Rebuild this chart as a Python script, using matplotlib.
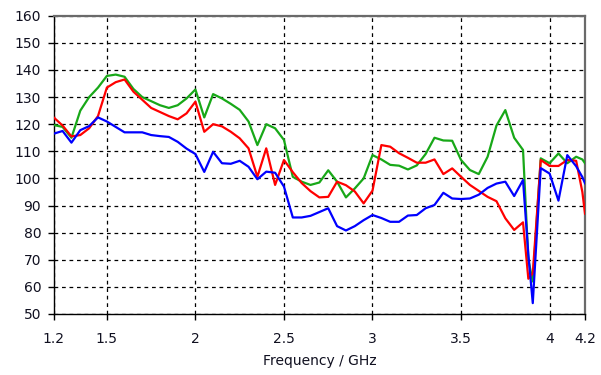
import matplotlib
matplotlib.use("Agg")
import matplotlib.pyplot as plt

# frequency points (GHz), shared by all three curves
freq = [1.2, 1.25, 1.3, 1.35, 1.4, 1.45, 1.5, 1.55, 1.6, 1.65,
        1.7, 1.75, 1.8, 1.85, 1.9, 1.95, 2.0, 2.05, 2.1, 2.15,
        2.2, 2.25, 2.3, 2.35, 2.4, 2.45, 2.5, 2.55, 2.6, 2.65,
        2.7, 2.75, 2.8, 2.85, 2.9, 2.95, 3.0, 3.05, 3.1, 3.15,
        3.2, 3.25, 3.3, 3.35, 3.4, 3.45, 3.5, 3.55, 3.6, 3.65,
        3.7, 3.75, 3.8, 3.85, 3.88, 3.905, 3.95, 4.0, 4.05, 4.1,
        4.15, 4.185, 4.2]

green = [119.7, 119, 115, 125, 130, 133.5, 137.8, 138.3, 137.5, 133,
         130, 128.5, 127, 126, 127, 129.5, 132.8, 122.5, 131.1, 129.5,
         127.5, 125.3, 121, 112.3, 120, 118.5, 114.2, 100.6, 98.8, 97.6,
         98.5, 103, 98.8, 93, 96.3, 100, 108.6, 107, 105, 104.7,
         103.3, 104.8, 109, 115, 114, 113.9, 106.8, 103.1, 101.6, 108,
         119.5, 125.2, 115, 110.5, 70, 62, 107.4, 105.6, 109.2, 105.6,
         108, 107, 105.6]

red = [122.5, 119.5, 115.5, 116, 118.5, 123, 133.5, 135.5, 136.5, 132,
       129, 126, 124.5, 123, 121.8, 124, 128.3, 117.2, 120, 119.2,
       117.2, 114.8, 111.1, 100.6, 111.1, 97.6, 106.8, 102.3, 98.3, 95.3,
       93, 93.2, 98.8, 97.5, 95.2, 90.8, 95.5, 112.3, 111.7, 109.3,
       107.6, 105.8, 105.8, 107, 101.6, 103.7, 100.6, 97.6, 95.4, 93.2,
       91.6, 85.3, 81, 83.8, 63, 65, 106.8, 104.6, 104.6, 106.8,
       106.5, 95, 87]

blue = [116.5, 117.5, 113.2, 117.8, 119.3, 122.5, 121, 119, 117, 117,
        117, 116, 115.6, 115.3, 113.5, 111, 109, 102.4, 109.8, 105.6,
        105.4, 106.5, 104.3, 99.7, 102.5, 102.1, 97, 85.6, 85.6, 86.2,
        87.6, 89, 82.4, 80.8, 82.4, 84.6, 86.5, 85.4, 84, 84,
        86.3, 86.5, 89, 90.2, 94.7, 92.6, 92.4, 92.6, 94, 96.5,
        98.1, 98.8, 93.5, 99.4, 72, 54, 103.8, 101.8, 91.8, 108.6,
        104.5, 100.5, 98.2]

x_ticks = [1.2, 1.5, 2, 2.5, 3, 3.5, 4, 4.2]
x_tick_labels = ["1.2", "1.5", "2", "2.5", "3", "3.5", "4", "4.2"]
y_ticks = list(range(50, 161, 10))

plt.rcParams['font.family'] = ['DejaVu Sans']

fig = plt.figure(figsize=(6.01, 3.75), dpi=100)
ax = fig.add_axes([0.0894, 0.1627, 0.8840, 0.7953])

ax.plot(freq, green, color='#18a818', lw=1.6, zorder=3)
ax.plot(freq, red, color='#ff0000', lw=1.6, zorder=4)
ax.plot(freq, blue, color='#0000ff', lw=1.6, zorder=5)

ax.set_xlim(1.2, 4.2)
ax.set_ylim(50, 160)
ax.set_xticks(x_ticks)
ax.set_xticklabels(x_tick_labels)
ax.set_yticks(y_ticks)

ax.grid(True, color='black', linestyle=(0, (3, 3)), lw=0.9)
ax.set_axisbelow(True)

for side in ['left', 'bottom']:
    ax.spines[side].set_color('black')
    ax.spines[side].set_linewidth(1.0)
for side in ['top', 'right']:
    ax.spines[side].set_color('#6a6a6a')
    ax.spines[side].set_linewidth(1.6)

ax.tick_params(axis='both', direction='out', length=4, width=1,
               labelsize=10, colors='black', labelcolor='#101020')
ax.tick_params(axis='x', pad=9)
ax.tick_params(axis='y', pad=5)

ax.set_xlabel("Frequency / GHz", fontsize=10, color='#101020', labelpad=6)

fig.savefig("out.png", dpi=100)
